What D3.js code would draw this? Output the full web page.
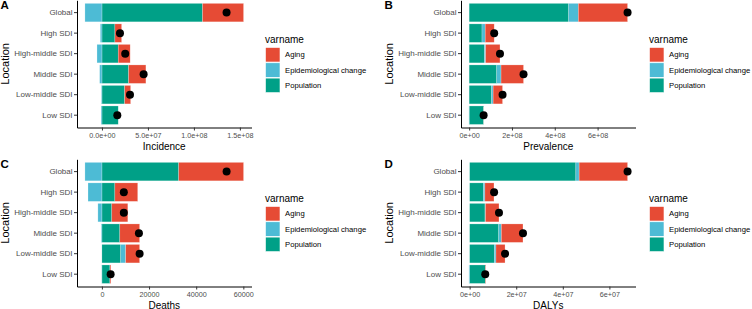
<!DOCTYPE html>
<head>
<meta charset="utf-8">
<script src="https://cdn.jsdelivr.net/npm/d3@7"></script>
<style>
  body { margin: 0; background: #fff; }
  svg text { font-family: "Liberation Sans", Arial, sans-serif; }
</style>
</head>
<body>
<div id="container"></div>
<script>

// Donnees
const locations = ["Global", "High SDI", "High-middle SDI", "Middle SDI", "Low-middle SDI", "Low SDI"];
const varnames = ["Aging", "Epidemiological change", "Population"];
const colors = ["#E64B35", "#4DBBD5", "#00A087"];

// Incidence
const incPopulation = [1.094e8, 1.41e7, 1.77e7, 2.90e7, 2.47e7, 1.77e7];
const incEpi        = [-1.85e7, -0.18e7, -0.54e7, -0.25e7, -0.07e7, -0.10e7];
const incAging      = [4.46e7, 0.73e7, 1.30e7, 1.88e7, 0.65e7, 0.0];
const incTotal      = [1.355e8, 1.96e7, 2.53e7, 4.53e7, 3.05e7, 1.67e7];
const incTicks      = [0, 5e7, 1e8, 1.5e8];

// Prevalence
const prevPopulation = [4.65e8, 0.60e8, 0.71e8, 1.29e8, 1.05e8, 0.68e8];
const prevEpi        = [0.45e8, 0.15e8, 0.06e8, 0.20e8, 0.07e8, -0.01e8];
const prevAging      = [2.30e8, 0.42e8, 0.67e8, 1.05e8, 0.44e8, 0.005e8];
const prevTotal      = [7.40e8, 1.17e8, 1.44e8, 2.54e8, 1.56e8, 0.675e8];
const prevTicks      = [0, 2e8, 4e8, 6e8];

// Deaths
const deathPopulation = [32600, 5500, 4200, 7600, 8000, 3400];
const deathEpi        = [-7200, -5900, -1700, -300, 2100, -100];
const deathAging      = [27500, 9700, 6800, 8400, 5900, 400];
const deathTotal      = [52900, 9300, 9300, 15700, 16000, 3700];
const deathTicks      = [0, 20000, 40000, 60000];

// DALYs
const dalyPopulation = [4.56e7, 0.585e7, 0.66e7, 1.25e7, 1.06e7, 0.68e7];
const dalyEpi        = [0.14e7, 0.07e7, 0.02e7, 0.11e7, 0.07e7, -0.03e7];
const dalyAging      = [2.08e7, 0.39e7, 0.58e7, 0.93e7, 0.39e7, 0.02e7];
const dalyTotal      = [6.78e7, 1.05e7, 1.26e7, 2.29e7, 1.52e7, 0.67e7];
const dalyTicks      = [0, 2e7, 4e7, 6e7];

// format "1.0e+08" / "2e+08" comme R
function sci(digits) {
  return v => {
    let s = v.toExponential(digits);
    let [m, e] = s.split("e");
    let sign = e[0] === "-" ? "-" : "+";
    let ex = e.replace(/[+-]/, "").padStart(2, "0");
    return `${m}e${sign}${ex}`;
  };
}

const panels = [
  {tag: "A", title: "Incidence", pop: incPopulation, epi: incEpi, aging: incAging, total: incTotal, ticks: incTicks, fmt: sci(1), ox: 0, oy: 0},
  {tag: "B", title: "Prevalence", pop: prevPopulation, epi: prevEpi, aging: prevAging, total: prevTotal, ticks: prevTicks, fmt: sci(0), ox: 384, oy: 0},
  {tag: "C", title: "Deaths", pop: deathPopulation, epi: deathEpi, aging: deathAging, total: deathTotal, ticks: deathTicks, fmt: d3.format("d"), ox: 0, oy: 159},
  {tag: "D", title: "DALYs", pop: dalyPopulation, epi: dalyEpi, aging: dalyAging, total: dalyTotal, ticks: dalyTicks, fmt: sci(0), ox: 384, oy: 159}
];

const svg = d3.select("#container")
  .append("svg")
  .attr("width", 752)
  .attr("height", 309);

// Position du panneau (relatif)
const pLeft = 77, pRight = 251.5, pTop = 0.3, pBottom = 127.5;

panels.forEach(p => {
  const g = svg.append("g").attr("transform", `translate(${p.ox},${p.oy})`);

  const rows = locations.map((loc, i) => ({
    location: loc,
    "Population": p.pop[i],
    "Epidemiological change": p.epi[i],
    "Aging": p.aging[i],
    total: p.total[i]
  }));

  // empilement: population depuis 0, puis epi, puis aging ; negatifs a gauche
  const stack = d3.stack()
    .keys(["Population", "Epidemiological change", "Aging"])
    .offset(d3.stackOffsetDiverging);
  const series = stack(rows);

  const lo = d3.min([0, d3.min(series, s => d3.min(s, d => d[0])), d3.min(rows, d => d.total)]);
  const hi = d3.max([0, d3.max(series, s => d3.max(s, d => d[1])), d3.max(rows, d => d.total)]);
  const pad = (hi - lo) * 0.05;

  const x = d3.scaleLinear()
    .domain([lo - pad, hi + pad])
    .range([pLeft, pRight]);

  const y = d3.scaleBand()
    .domain(locations)
    .range([pTop, pBottom])
    .paddingInner(0.1)
    .paddingOuter(0.15);

  const color = d3.scaleOrdinal().domain(varnames).range(colors);

  g.selectAll(".serie")
    .data(series)
    .enter().append("g")
    .attr("fill", s => color(s.key))
    .selectAll("rect")
    .data(s => s)
    .enter().append("rect")
    .attr("x", d => x(Math.min(d[0], d[1])))
    .attr("width", d => Math.abs(x(d[1]) - x(d[0])))
    .attr("y", d => y(d.data.location))
    .attr("height", y.bandwidth())
    .attr("stroke", "#fff")
    .attr("stroke-opacity", 0.45)
    .attr("stroke-width", 0.5);

  // points = effet total
  g.selectAll(".dot")
    .data(rows)
    .enter().append("circle")
    .attr("cx", d => x(d.total))
    .attr("cy", d => y(d.location) + y.bandwidth() / 2)
    .attr("r", 4)
    .attr("fill", "#000");

  // Axe X
  const ax = g.append("g")
    .attr("transform", `translate(0,${pBottom})`)
    .call(d3.axisBottom(x).tickValues(p.ticks).tickFormat(p.fmt).tickSize(3).tickSizeOuter(0).tickPadding(2.5));
  ax.selectAll("text").attr("font-size", 7.2).attr("fill", "#4D4D4D");

  // Axe Y
  const ay = g.append("g")
    .attr("transform", `translate(${pLeft},0)`)
    .call(d3.axisLeft(y).tickSize(3).tickSizeOuter(0).tickPadding(1.5));
  ay.selectAll("text").attr("font-size", 8).attr("fill", "#4D4D4D");

  [ax, ay].forEach(a => {
    a.select(".domain").attr("stroke", "#000").attr("stroke-width", 1);
    a.selectAll(".tick line").attr("stroke", "#333");
  });

  // Titres
  g.append("text")
    .attr("x", (pLeft + pRight) / 2)
    .attr("y", pBottom + 22)
    .attr("text-anchor", "middle")
    .attr("font-size", 10)
    .text(p.title);

  g.append("text")
    .attr("transform", `translate(9,${(pTop + pBottom) / 2}) rotate(-90)`)
    .attr("text-anchor", "middle")
    .attr("font-size", 11)
    .text("Location");

  g.append("text")
    .attr("x", 0.5)
    .attr("y", 8.5)
    .attr("font-size", 11.5)
    .attr("font-weight", "bold")
    .text(p.tag);

  // Legende
  const lg = g.append("g").attr("transform", "translate(265,0)");
  lg.append("text")
    .attr("x", 0)
    .attr("y", 42.5)
    .attr("font-size", 10)
    .text("varname");
  varnames.forEach((v, i) => {
    lg.append("rect")
      .attr("x", 0.5)
      .attr("y", 47.5 + i * 15.3)
      .attr("width", 14.5)
      .attr("height", 14.5)
      .attr("fill", color(v))
      .attr("stroke", "#fff")
      .attr("stroke-width", 0.6);
    lg.append("text")
      .attr("x", 20)
      .attr("y", 47.5 + i * 15.3 + 7.25)
      .attr("dy", "0.35em")
      .attr("font-size", 7.7)
      .text(v);
  });
});

</script>
</body>
